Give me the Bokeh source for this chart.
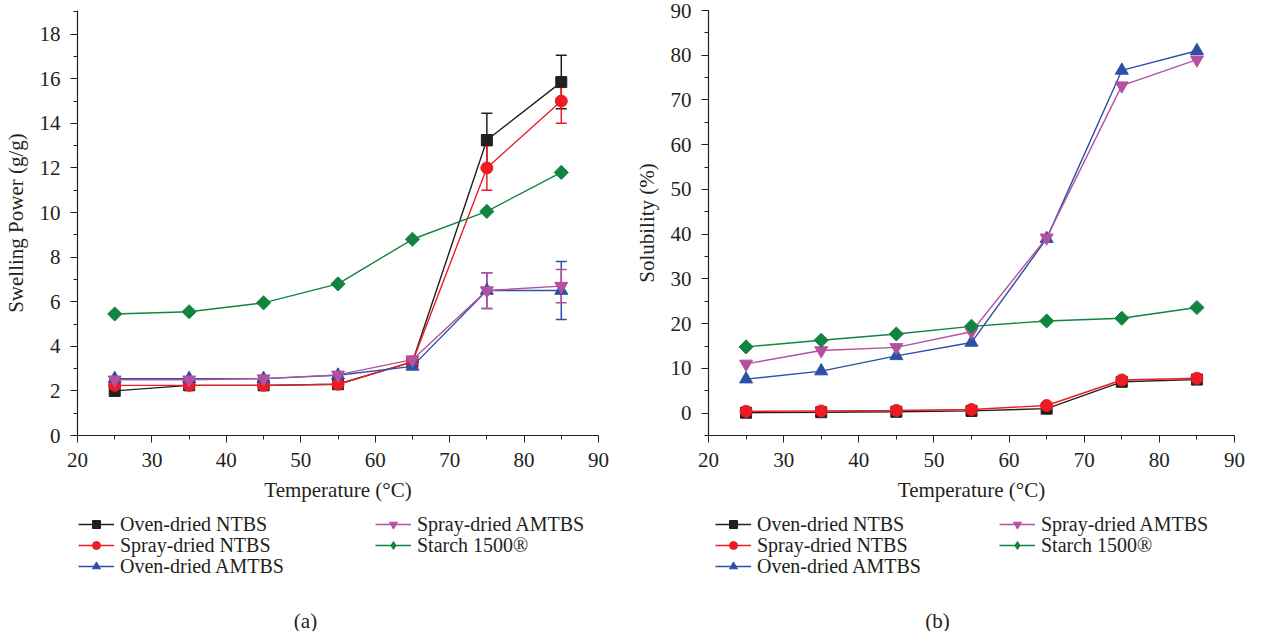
import math
from bokeh.plotting import figure
from bokeh.layouts import row, column
from bokeh.models import (ColumnDataSource, Whisker, TeeHead, Legend, LegendItem,
                          Label, Range1d, SingleIntervalTicker)
from bokeh.embed import file_html
from bokeh.resources import INLINE

# ---------------- data ----------------
temperature = [25, 35, 45, 55, 65, 75, 85]
series_names = ["Oven-dried NTBS", "Spray-dried NTBS", "Oven-dried AMTBS",
                "Spray-dried AMTBS", "Starch 1500®"]

# (a) Swelling power (g/g)
swell_oven_ntbs = [2.0, 2.25, 2.25, 2.3, 3.3, 13.25, 15.85]
swell_spray_ntbs = [2.25, 2.25, 2.25, 2.3, 3.3, 12.0, 15.0]
swell_oven_amtbs = [2.55, 2.55, 2.55, 2.7, 3.1, 6.5, 6.5]
swell_spray_amtbs = [2.5, 2.5, 2.55, 2.72, 3.4, 6.5, 6.7]
swell_starch = [5.45, 5.55, 5.95, 6.8, 8.8, 10.05, 11.8]

swell_err_oven_ntbs = [0, 0, 0, 0, 0, 1.2, 1.2]
swell_err_spray_ntbs = [0, 0, 0, 0, 0, 1.0, 1.0]
swell_err_oven_amtbs = [0, 0, 0, 0, 0, 0.8, 1.3]
swell_err_spray_amtbs = [0, 0, 0, 0, 0, 0.8, 0.75]
swell_err_starch = [0, 0, 0, 0, 0, 0, 0]

# (b) Solubility (%)
sol_oven_ntbs = [0.1, 0.2, 0.3, 0.5, 1.0, 7.0, 7.5]
sol_spray_ntbs = [0.4, 0.5, 0.6, 0.8, 1.7, 7.4, 7.8]
sol_oven_amtbs = [7.6, 9.4, 12.8, 15.8, 39.0, 76.6, 81.0]
sol_spray_amtbs = [11.0, 14.0, 14.7, 18.2, 39.2, 73.2, 79.0]
sol_starch = [14.8, 16.3, 17.7, 19.4, 20.6, 21.2, 23.6]
sol_err_none = [0, 0, 0, 0, 0, 0, 0]

# ---------------- style ----------------
colors = ["#231f20", "#ed1c24", "#2e50a4", "#b4519f", "#13843f"]
markers = ["square", "circle", "triangle", "inverted_triangle", "square"]
angles = [0, 0, 0, 0, math.pi / 4]
msizes = [11, 12, 13, 13, 10]
legend_markers = ["square", "circle", "triangle", "inverted_triangle", "diamond"]
legend_msizes = [11, 12, 13, 13, 17]
FONT = "Liberation Serif"
TXT = "#231f20"
MAIN_H = 512
STRIP_H = 119


def add_series(p, vals, c, m, a, s):
    src = ColumnDataSource(dict(x=temperature, y=vals))
    ln = p.line("x", "y", source=src, line_color=c, line_width=1.4)
    sc = p.scatter("x", "y", source=src, marker=m, size=s, angle=a,
                   fill_color=c, line_color=c)
    return ln, sc


def make_panel(values, errors, y_start, y_end, y_interval, ylabel,
               border_left, border_right, border_top, border_bottom):
    p = figure(width=625, height=MAIN_H,
               min_border_left=border_left, min_border_right=border_right,
               min_border_top=border_top, min_border_bottom=border_bottom,
               x_range=Range1d(20, 90), y_range=Range1d(y_start, y_end),
               output_backend="svg", toolbar_location=None)
    p.outline_line_color = None
    p.xgrid.visible = False
    p.ygrid.visible = False

    p.xaxis.ticker = SingleIntervalTicker(interval=10, num_minor_ticks=2)
    p.yaxis.ticker = SingleIntervalTicker(interval=y_interval, num_minor_ticks=2)
    for ax in (p.xaxis[0], p.yaxis[0]):
        ax.axis_line_color = TXT
        ax.axis_line_width = 1.2
        ax.major_tick_line_color = TXT
        ax.minor_tick_line_color = TXT
        ax.major_tick_out = 7
        ax.major_tick_in = 0
        ax.minor_tick_out = 4
        ax.minor_tick_in = 0
        ax.major_label_text_font = FONT
        ax.major_label_text_font_size = "21px"
        ax.major_label_text_color = TXT
        ax.axis_label_text_font = FONT
        ax.axis_label_text_font_size = "21px"
        ax.axis_label_text_font_style = "normal"
        ax.axis_label_text_color = TXT
    p.xaxis.axis_label = "Temperature (°C)"
    p.xaxis.major_label_standoff = 10
    p.xaxis.axis_label_standoff = 8
    p.yaxis.axis_label = ylabel
    p.yaxis.major_label_standoff = 10
    p.yaxis.axis_label_standoff = 9

    for vals, errs, c, m, a, s in zip(values, errors, colors, markers, angles, msizes):
        add_series(p, vals, c, m, a, s)
        ex = [t for t, e in zip(temperature, errs) if e > 0]
        if ex:
            up = [v + e for v, e in zip(vals, errs) if e > 0]
            lo = [v - e for v, e in zip(vals, errs) if e > 0]
            esrc = ColumnDataSource(dict(x=ex, upper=up, lower=lo))
            w = Whisker(source=esrc, base="x", upper="upper", lower="lower",
                        line_color=c, line_width=1.5,
                        upper_head=TeeHead(size=11, line_color=c, line_width=1.5),
                        lower_head=TeeHead(size=11, line_color=c, line_width=1.5))
            p.add_layout(w)
    return p


def make_legend_fig(values, leg_x, label_w, panel_label, lab_x):
    H = STRIP_H
    lf = figure(width=625, height=H, min_border=0,
                x_range=Range1d(0, 1), y_range=Range1d(0, 1),
                x_axis_type=None, y_axis_type=None,
                output_backend="svg", toolbar_location=None)
    lf.outline_line_color = None
    lf.xgrid.visible = False
    lf.ygrid.visible = False
    items = []
    for vals, name, c, m, s in zip(values, series_names, colors, legend_markers, legend_msizes):
        ln, sc = add_series(lf, vals, c, m, 0, s)
        ln.visible = False
        sc.visible = False
        items.append(LegendItem(label=name, renderers=[ln, sc]))
    # legend rows: (items, row position measured from top of this strip)
    rows = [([items[0], items[3]], 11), ([items[1], items[4]], 32), ([items[2]], 53)]
    row_h = 25
    for its, cy in rows:
        leg = Legend(items=its, location=(leg_x, H - cy - row_h / 2),
                     orientation="horizontal",
                     label_width=label_w, glyph_width=36, glyph_height=20,
                     label_height=20, spacing=0, padding=0, margin=0,
                     label_standoff=6, border_line_alpha=0, background_fill_alpha=0,
                     inactive_fill_alpha=0,
                     label_text_font=FONT, label_text_font_size="20px",
                     label_text_color=TXT)
        lf.add_layout(leg)
    lab = Label(x=lab_x, y=11, x_units="screen", y_units="screen",
                text=panel_label, text_font=FONT, text_font_size="21px",
                text_color=TXT, text_align="center", text_baseline="middle")
    lf.add_layout(lab)
    return lf


swell_values = [swell_oven_ntbs, swell_spray_ntbs, swell_oven_amtbs,
                swell_spray_amtbs, swell_starch]
swell_errors = [swell_err_oven_ntbs, swell_err_spray_ntbs, swell_err_oven_amtbs,
                swell_err_spray_amtbs, swell_err_starch]
sol_values = [sol_oven_ntbs, sol_spray_ntbs, sol_oven_amtbs, sol_spray_amtbs, sol_starch]
sol_errors = [sol_err_none] * 5

p1 = make_panel(swell_values, swell_errors, 0, 19.06, 2, "Swelling Power (g/g)",
                71, 27, 2, 75)
p2 = make_panel(sol_values, sol_errors, -5, 90, 10, "Solubility (%)",
                83, 16, 10, 77)

l1 = make_legend_fig(swell_values, 78, 255, "(a)", 305)
l2 = make_legend_fig(sol_values, 90, 242, "(b)", 312)

layout = column(row(p1, p2), row(l1, l2))
open("out.html", "w").write(file_html(layout, INLINE))
